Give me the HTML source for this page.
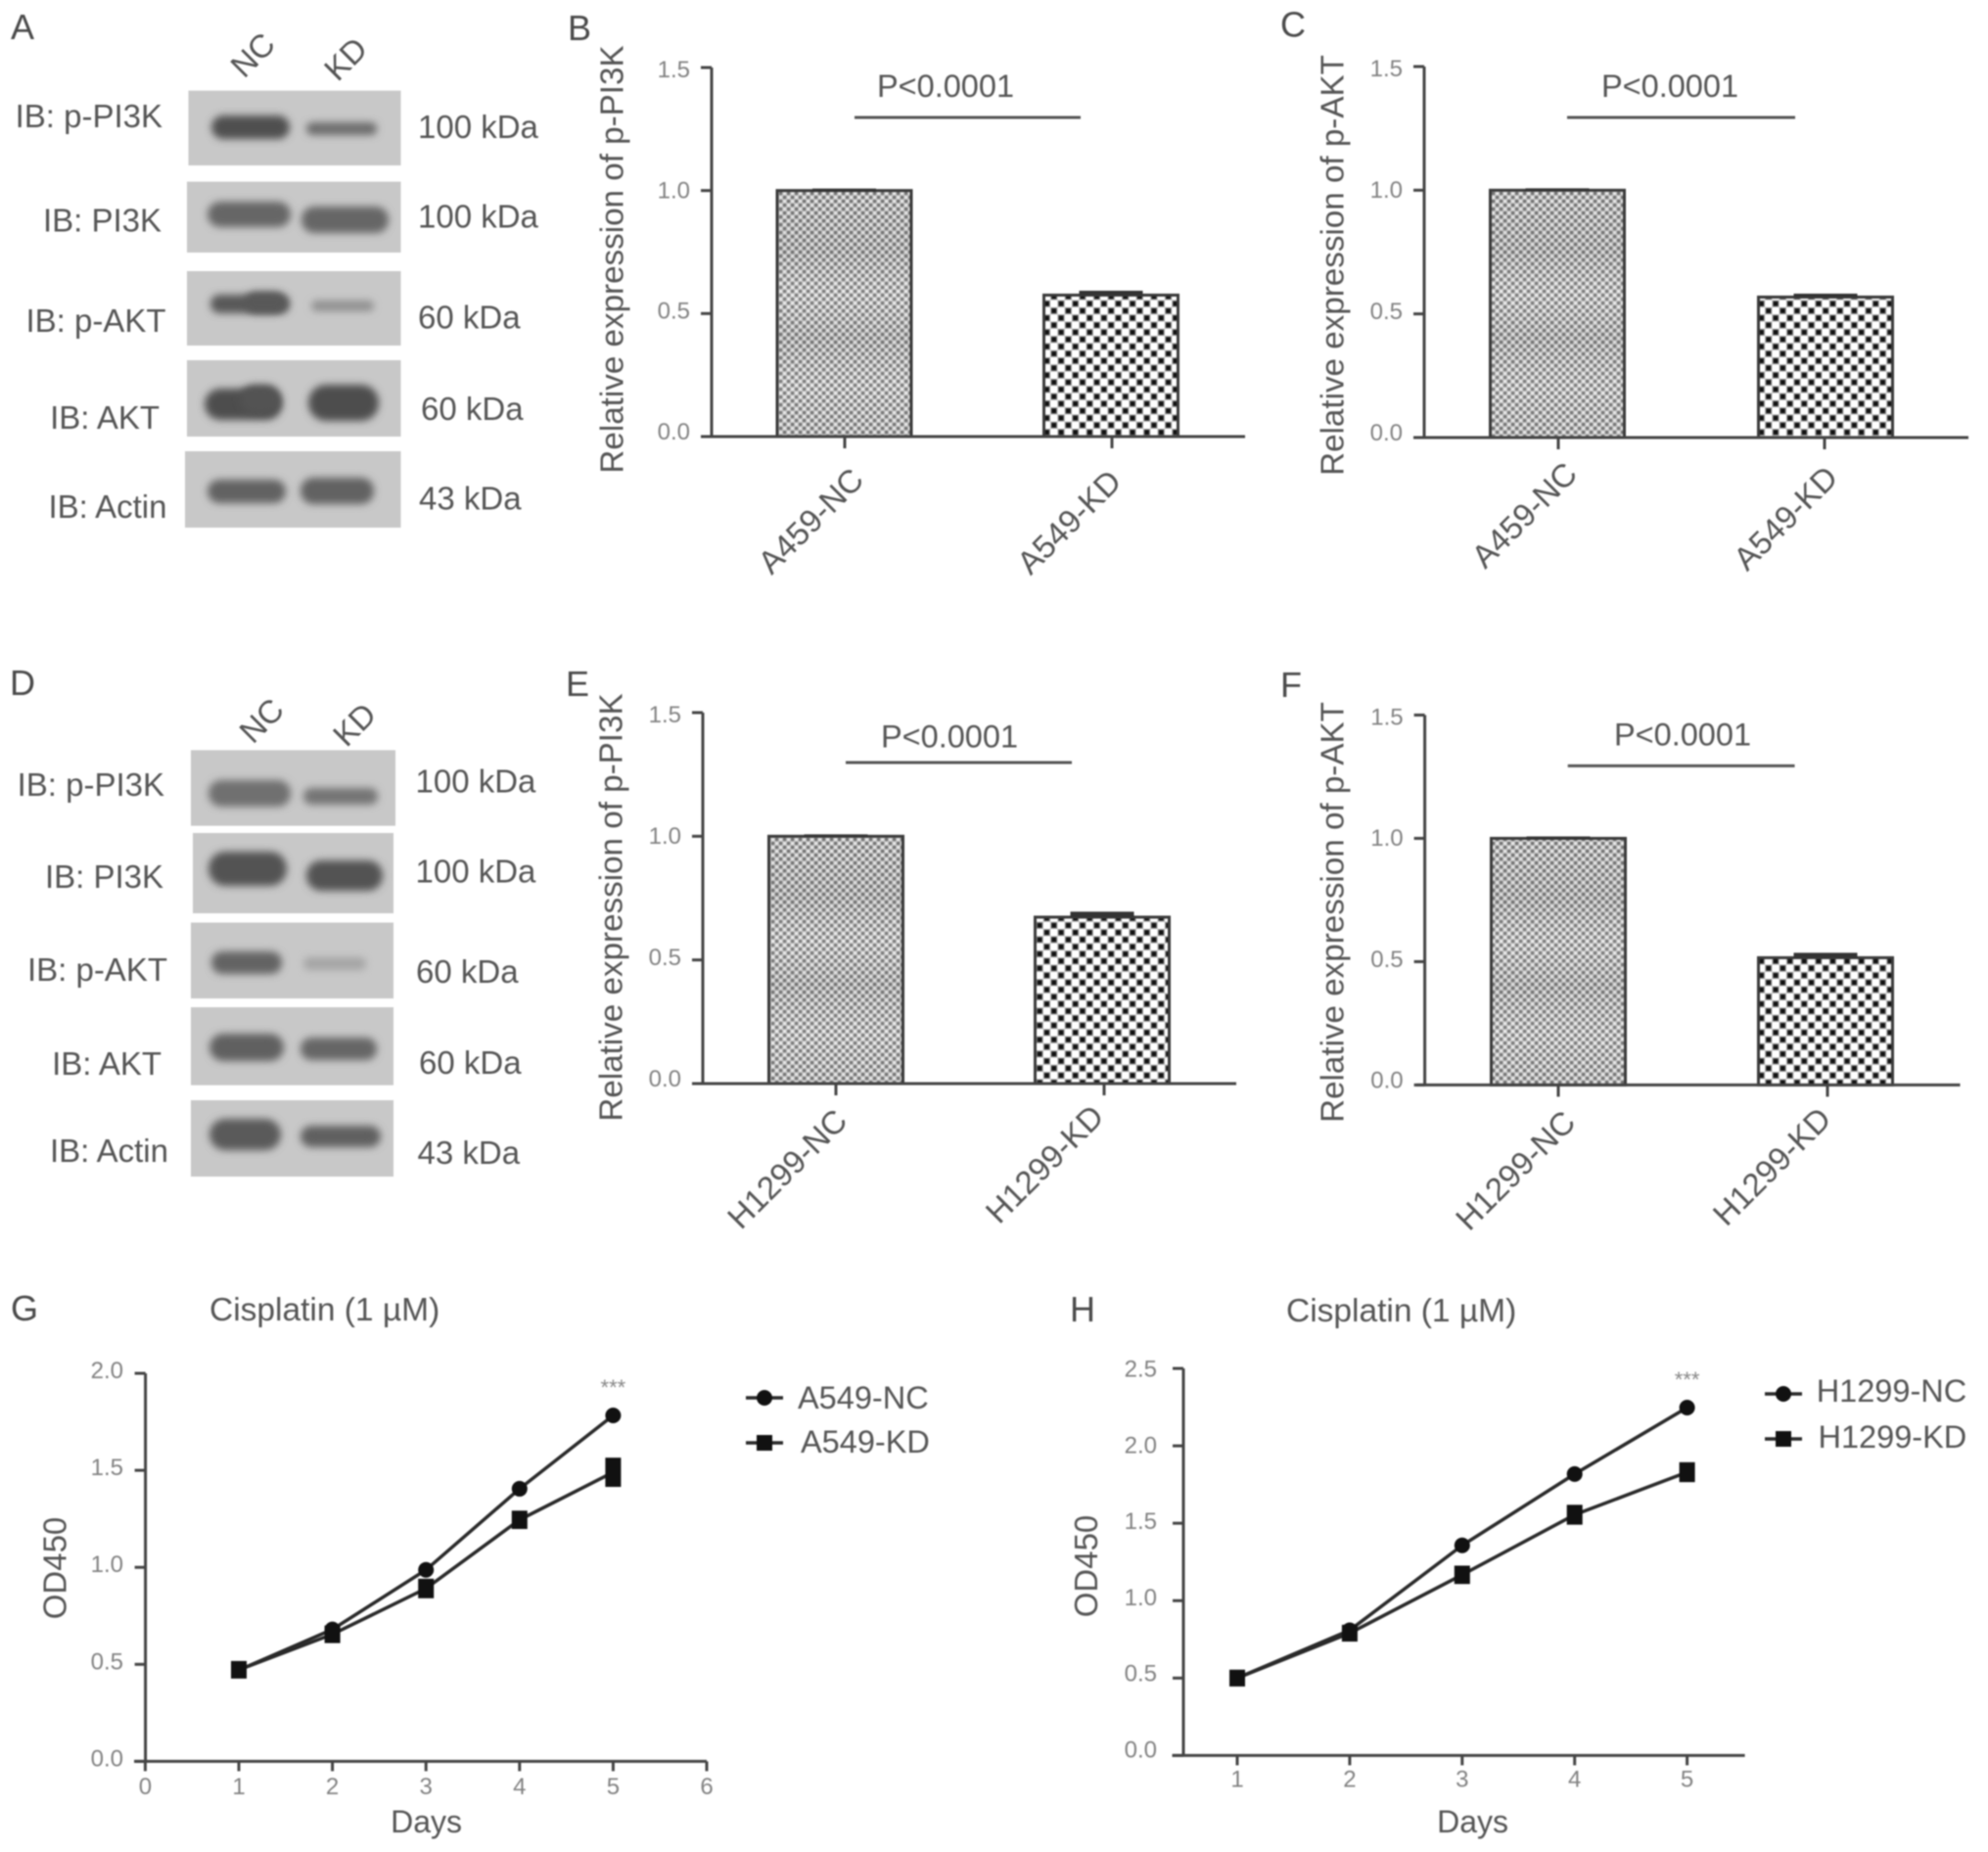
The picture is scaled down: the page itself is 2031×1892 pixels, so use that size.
<!DOCTYPE html>
<html lang="en">
<head>
<meta charset="utf-8">
<title>PI3K and AKT expression and cisplatin response</title>
<style>
html,body{margin:0;padding:0;background:#fff;width:2031px;height:1892px;overflow:hidden}
svg{display:block;filter:blur(0.9px)}
text{font-family:"Liberation Sans",sans-serif;fill:#555}
.lab{font-size:33px}
.panel{font-size:36px;fill:#4a4a4a}
.band{filter:url(#band-blur)}
.blot{fill:#c8c8c8}
</style>
</head>
<body>
<svg id="fig" xmlns="http://www.w3.org/2000/svg" width="2031" height="1892" viewBox="0 0 2031 1892">
<defs>
<filter id="band-blur" x="-30%" y="-80%" width="160%" height="260%"><feGaussianBlur stdDeviation="4"/></filter>
<pattern id="fine-pattern" patternUnits="userSpaceOnUse" width="8" height="8">
<rect width="8" height="8" fill="#c8c8c8"/>
<rect x="0" y="0" width="3.2" height="3.2" fill="#727272"/>
<rect x="4" y="4" width="3.2" height="3.2" fill="#727272"/>
<rect x="0.4" y="4.4" width="2.4" height="2.4" fill="#f0f0f0"/>
<rect x="4.4" y="0.4" width="2.4" height="2.4" fill="#f0f0f0"/>
</pattern>
<pattern id="coarse-pattern" patternUnits="userSpaceOnUse" width="14.6" height="14.6">
<rect width="14.6" height="14.6" fill="#fff"/>
<rect x="0" y="0" width="7.3" height="7.3" fill="#a0a0a0"/>
<rect x="7.3" y="7.3" width="7.3" height="7.3" fill="#a0a0a0"/>
<rect x="1.2" y="1.2" width="4.9" height="4.9" fill="#111"/>
<rect x="8.5" y="8.5" width="4.9" height="4.9" fill="#111"/>
</pattern>
<linearGradient id="nc-shade" x1="0" y1="0" x2="0" y2="1">
<stop offset="0" stop-color="#888" stop-opacity="0.02"/>
<stop offset="0.25" stop-color="#777" stop-opacity="0.14"/>
<stop offset="0.42" stop-color="#fff" stop-opacity="0.08"/>
<stop offset="0.6" stop-color="#777" stop-opacity="0.14"/>
<stop offset="0.8" stop-color="#fff" stop-opacity="0.08"/>
<stop offset="1" stop-color="#888" stop-opacity="0.05"/>
</linearGradient>
</defs>

<!-- Panel A blot -->
<g>
<text class="panel" x="11" y="40">A</text>
<text class="lab" transform="translate(258 56) rotate(-45)" text-anchor="middle" dy=".35em">NC</text>
<text class="lab" transform="translate(353 60) rotate(-45)" text-anchor="middle" dy=".35em">KD</text>

<rect class="blot" x="192.5" y="92.6" width="217" height="76.4"/>
<rect class="blot" x="191" y="185.6" width="218.5" height="72.4"/>
<rect class="blot" x="191" y="277" width="218.5" height="76"/>
<rect class="blot" x="191" y="368" width="218.5" height="78"/>
<rect class="blot" x="189" y="461" width="220.5" height="78"/>

<rect class="band" x="216" y="118" width="80" height="24" rx="12" fill="#505050"/>
<rect class="band" x="313" y="125" width="72" height="13" rx="6" fill="#6c6c6c"/>
<rect class="band" x="212" y="206" width="85" height="26" rx="13" fill="#666"/>
<rect class="band" x="308" y="211" width="89" height="27" rx="13" fill="#666"/>
<rect class="band" x="215" y="301" width="81" height="19" rx="9" fill="#585858"/>
<rect class="band" x="250" y="298" width="42" height="22" rx="11" fill="#585858"/>
<rect class="band" x="318" y="307" width="64" height="11" rx="5" fill="#909090"/>
<rect class="band" x="209" y="397" width="79" height="32" rx="16" fill="#4e4e4e"/>
<rect class="band" x="245" y="393" width="42" height="30" rx="15" fill="#525252"/>
<rect class="band" x="315" y="393" width="72" height="37" rx="18" fill="#4e4e4e"/>
<rect class="band" x="212" y="490" width="80" height="24" rx="12" fill="#626262"/>
<rect class="band" x="307" y="488" width="75" height="27" rx="13" fill="#626262"/>

<text class="lab" x="166" y="130" text-anchor="end">IB: p-PI3K</text>
<text class="lab" x="165" y="236.5" text-anchor="end">IB: PI3K</text>
<text class="lab" x="169.5" y="339" text-anchor="end">IB: p-AKT</text>
<text class="lab" x="163" y="438" text-anchor="end">IB: AKT</text>
<text class="lab" x="170.5" y="529" text-anchor="end">IB: Actin</text>

<text class="lab" x="427" y="141">100 kDa</text>
<text class="lab" x="427" y="232.5">100 kDa</text>
<text class="lab" x="427" y="335.6">60 kDa</text>
<text class="lab" x="430" y="429">60 kDa</text>
<text class="lab" x="428" y="520.7">43 kDa</text>
</g>

<!-- Panel D blot -->
<g>
<text class="panel" x="10" y="710">D</text>
<text class="lab" transform="translate(267 736) rotate(-45)" text-anchor="middle" dy=".35em">NC</text>
<text class="lab" transform="translate(362 740) rotate(-45)" text-anchor="middle" dy=".35em">KD</text>

<rect class="blot" x="195" y="766.4" width="209" height="77.2"/>
<rect class="blot" x="197" y="851" width="205" height="82"/>
<rect class="blot" x="195" y="942.5" width="207" height="77.5"/>
<rect class="blot" x="195" y="1029" width="207" height="79.6"/>
<rect class="blot" x="195" y="1124" width="207" height="78"/>

<rect class="band" x="213" y="797" width="84" height="27" rx="13" fill="#707070"/>
<rect class="band" x="310" y="805" width="76" height="17" rx="8" fill="#747474"/>
<rect class="band" x="213" y="870" width="80" height="35" rx="17" fill="#525252"/>
<rect class="band" x="313" y="879" width="78" height="31" rx="15" fill="#525252"/>
<rect class="band" x="216" y="972" width="72" height="23" rx="11" fill="#646464"/>
<rect class="band" x="310" y="978" width="64" height="13" rx="6" fill="#a4a4a4"/>
<rect class="band" x="214" y="1056" width="76" height="28" rx="14" fill="#606060"/>
<rect class="band" x="307" y="1060" width="78" height="23" rx="11" fill="#666"/>
<rect class="band" x="214" y="1143" width="73" height="32" rx="16" fill="#5a5a5a"/>
<rect class="band" x="307" y="1150" width="82" height="22" rx="11" fill="#606060"/>

<text class="lab" x="168" y="813" text-anchor="end">IB: p-PI3K</text>
<text class="lab" x="167" y="907" text-anchor="end">IB: PI3K</text>
<text class="lab" x="171" y="1002" text-anchor="end">IB: p-AKT</text>
<text class="lab" x="165" y="1098" text-anchor="end">IB: AKT</text>
<text class="lab" x="172" y="1187" text-anchor="end">IB: Actin</text>

<text class="lab" x="424.5" y="809.6">100 kDa</text>
<text class="lab" x="424.5" y="901.7">100 kDa</text>
<text class="lab" x="425" y="1004">60 kDa</text>
<text class="lab" x="428" y="1097">60 kDa</text>
<text class="lab" x="426.5" y="1189">43 kDa</text>
</g>

<text class="panel" x="580" y="41">B</text>
<text class="panel" x="1308" y="37.5">C</text>
<text class="panel" x="578" y="711">E</text>
<text class="panel" x="1308" y="712">F</text>
<text class="panel" x="11" y="1349">G</text>
<text class="panel" x="1093" y="1350">H</text>
<text x="214" y="1349" font-size="33.5">Cisplatin (1 µM)</text>
<text x="1314" y="1350" font-size="33.5">Cisplatin (1 µM)</text>
</svg>

<script>
// ---- bar chart data ----
const barTicks = [0, 0.5, 1.0, 1.5];
const barTickLabels = ['0.0', '0.5', '1.0', '1.5'];
const categoriesB = ['A459-NC', 'A549-KD'];
const valuesB = [1.0, 0.575];
const errorsB = [0.002, 0.012];
const categoriesC = ['A459-NC', 'A549-KD'];
const valuesC = [1.0, 0.568];
const errorsC = [0.002, 0.008];
const categoriesE = ['H1299-NC', 'H1299-KD'];
const valuesE = [1.0, 0.673];
const errorsE = [0.002, 0.016];
const categoriesF = ['H1299-NC', 'H1299-KD'];
const valuesF = [1.0, 0.516];
const errorsF = [0.002, 0.014];

// ---- line chart data ----
const daysG = [1, 2, 3, 4, 5];
const ncValuesG = [0.47, 0.68, 0.987, 1.405, 1.783];
const kdValuesG = [0.472, 0.655, 0.891, 1.245, 1.49];
const kdErrorsG = [0.01, 0.01, 0.015, 0.012, 0.04];
const xTicksG = [0, 1, 2, 3, 4, 5, 6];
const yTicksG = [0, 0.5, 1.0, 1.5, 2.0];
const yTickLabelsG = ['0.0', '0.5', '1.0', '1.5', '2.0'];
const daysH = [1, 2, 3, 4, 5];
const ncValuesH = [0.5, 0.809, 1.357, 1.818, 2.247];
const kdValuesH = [0.5, 0.79, 1.167, 1.555, 1.83];
const kdErrorsH = [0.01, 0.01, 0.015, 0.02, 0.02];
const xTicksH = [1, 2, 3, 4, 5];
const yTicksH = [0, 0.5, 1.0, 1.5, 2.0, 2.5];
const yTickLabelsH = ['0.0', '0.5', '1.0', '1.5', '2.0', '2.5'];

const svg = document.getElementById('fig');
const NS = 'http://www.w3.org/2000/svg';
const INK = '#444';

function make(parent, tag, attrs, content) {
  const el = document.createElementNS(NS, tag);
  for (const k in attrs) el.setAttribute(k, attrs[k]);
  if (content !== undefined) el.textContent = content;
  parent.appendChild(el);
  return el;
}

function barChart(p) {
  const g = make(svg, 'g', {});
  
  
  const y = v => p.y0 + (p.y15 - p.y0) * v / 1.5;
  const x = i => p.cx[i];

  p.categories.forEach((c, i) => {
    const fillId = i === 0 ? 'fine-pattern' : 'coarse-pattern';
    const bw = 137;
    const left = x(i) - bw / 2 + (p.barShift ? p.barShift[i] : 0);
    const r = make(g, 'rect', { x: left, y: y(p.values[i]), width: bw, height: y(0) - y(p.values[i]), fill: 'url(#' + fillId + ')', stroke: 'none' });
    
    
    if (i === 0) {
      const s = make(g, 'rect', { x: left, y: y(p.values[i]), width: bw, height: y(0) - y(p.values[i]), fill: 'url(#nc-shade)' });
      
      
    }
    const o = make(g, 'rect', { x: left, y: y(p.values[i]), width: bw, height: y(0) - y(p.values[i]), fill: 'none', stroke: '#3a3a3a', 'stroke-width': 3 });
    
    
    const e = make(g, 'line', { x1: left + 36, x2: left + bw - 36, y1: y(p.values[i] + p.errors[i]), y2: y(p.values[i] + p.errors[i]), stroke: '#333', 'stroke-width': 3 });
    
    
    const e2 = make(g, 'rect', { x: left + 36, width: bw - 72, y: y(p.values[i] + p.errors[i]), height: y(p.values[i]) - y(p.values[i] + p.errors[i]), fill: '#333' });
    
    
    const t = make(g, 'line', { x1: x(i), x2: x(i), y1: y(0), y2: y(0) + 12, stroke: INK, 'stroke-width': 3 });
    
    
    const tx = x(i) + p.labelOffset[i][0], ty = y(0) + p.labelOffset[i][1];
    const l = make(g, 'text', { transform: 'translate(' + tx + ' ' + ty + ') rotate(-45)', 'text-anchor': 'middle', dy: '.35em', 'font-size': 33 }, c);
    
    
  });

  const ax = make(g, 'line', { x1: p.ax, x2: p.ax, y1: y(1.5), y2: y(0), stroke: INK, 'stroke-width': 3 });
  
  
  const bx = make(g, 'line', { x1: p.xStart, x2: p.xEnd, y1: y(0), y2: y(0), stroke: INK, 'stroke-width': 3 });
  
  

  barTicks.forEach((v, i) => {
    const t = make(g, 'line', { x1: p.ax - 11, x2: p.ax, y1: y(v), y2: y(v), stroke: INK, 'stroke-width': 3 });
    
    
    const l = make(g, 'text', { x: p.ax - 22, y: y(v) + 3 + 7 * v / 1.5, 'text-anchor': 'end', 'font-size': 24, style: 'fill:#828282' }, barTickLabels[i]);
    
    
  });

  const yt = make(g, 'text', { transform: 'translate(' + p.titleX + ' ' + p.titleY + ') rotate(-90)', 'text-anchor': 'middle', dy: '.35em', 'font-size': 33.2 }, p.yTitle);
  
  

  const sl = make(g, 'line', { x1: p.sig[0], x2: p.sig[1], y1: p.sig[2], y2: p.sig[2], stroke: '#555', 'stroke-width': 3 });
  
  
  const st = make(g, 'text', { x: p.sig[3], y: p.sig[4], 'text-anchor': 'middle', 'font-size': 32.5 }, 'P<0.0001');
  
  
}

function lineChart(p) {
  const g = make(svg, 'g', {});
  
  
  const x = d => p.x1 + (d - 1) * p.xStep;
  const y = v => p.y0 + (p.yTop - p.y0) * v / p.yMax;

  const ax = make(g, 'line', { x1: p.ax, x2: p.ax, y1: y(p.yMax), y2: y(0), stroke: INK, 'stroke-width': 3 });
  
  
  const bx = make(g, 'line', { x1: p.xStart, x2: p.xEnd, y1: y(0), y2: y(0), stroke: INK, 'stroke-width': 3 });
  
  

  p.yTicks.forEach((v, i) => {
    const t = make(g, 'line', { x1: p.ax - 11, x2: p.ax, y1: y(v), y2: y(v), stroke: INK, 'stroke-width': 3 });
    
    
    const l = make(g, 'text', { x: p.yLabelX, y: y(v) + p.yLabelDy0 + p.yLabelDy1 * v / p.yMax, 'text-anchor': 'end', 'font-size': 24, style: 'fill:#828282' }, p.yTickLabels[i]);
    
    
  });
  p.xTicks.forEach(d => {
    const t = make(g, 'line', { x1: x(d), x2: x(d), y1: y(0), y2: y(0) + 10, stroke: INK, 'stroke-width': 3 });
    
    
    const l = make(g, 'text', { x: x(d), y: p.xLabelY, 'text-anchor': 'middle', 'font-size': 24, style: 'fill:#828282' }, String(d));
    
    
  });

  const xt = make(g, 'text', { x: p.daysX, y: 1872, 'text-anchor': 'middle', 'font-size': 32 }, 'Days');
  
  
  const yt = make(g, 'text', { transform: 'translate(' + p.odX + ' ' + p.odY + ') rotate(-90)', 'text-anchor': 'middle', dy: '.35em', 'font-size': 33 }, 'OD450');
  
  

  const pts = (vals) => p.days.map((d, i) => x(d) + ',' + y(vals[i])).join(' ');
  const nl = make(g, 'polyline', { points: pts(p.nc), fill: 'none', stroke: '#2a2a2a', 'stroke-width': 3.5 });
  
  
  const kl = make(g, 'polyline', { points: pts(p.kd), fill: 'none', stroke: '#2a2a2a', 'stroke-width': 3.5 });
  
  

  p.days.forEach((d, i) => {
    const c = make(g, 'circle', { cx: x(d), cy: y(p.nc[i]), r: 8, fill: '#111' });
    
    
  });
  p.days.forEach((d, i) => {
    const top = y(p.kd[i] + p.kdErr[i]), bot = y(p.kd[i] - p.kdErr[i]);
    const eb = make(g, 'rect', { x: x(d) - 8, y: top - 7, width: 16, height: bot - top + 14, fill: '#111' });
    
    
  });

  const star = make(g, 'text', { x: x(5), y: p.starY, 'text-anchor': 'middle', 'font-size': 22, style: 'fill:#888' }, '***');
  
  

  // legend
  const le1 = make(g, 'line', { x1: p.legend.x0, x2: p.legend.x0 + 38, y1: p.legend.y1, y2: p.legend.y1, stroke: '#2a2a2a', 'stroke-width': 3.5 });
  
  
  const lm1 = make(g, 'circle', { cx: p.legend.x0 + 19, cy: p.legend.y1, r: 8, fill: '#111' });
  
  
  const lt1 = make(g, 'text', { x: p.legend.t1, y: p.legend.b1, 'font-size': 32.5 }, p.names[0]);
  
  
  const le2 = make(g, 'line', { x1: p.legend.x0, x2: p.legend.x0 + 38, y1: p.legend.y2, y2: p.legend.y2, stroke: '#2a2a2a', 'stroke-width': 3.5 });
  
  
  const lm2 = make(g, 'rect', { x: p.legend.x0 + 11, y: p.legend.y2 - 8, width: 16, height: 16, fill: '#111' });
  
  
  const lt2 = make(g, 'text', { x: p.legend.t2, y: p.legend.b2, 'font-size': 32.5 }, p.names[1]);
  
  
}

barChart({ id: 'b', categories: categoriesB, values: valuesB, errors: errorsB, y0: 446, y15: 69, ax: 727, xStart: 717, xEnd: 1272, cx: [863, 1136], barShift: [-0.5, -1],
  labelOffset: [[-35, 86], [-44, 87]], titleX: 625, titleY: 265, yTitle: 'Relative expression of p-PI3K', sig: [873, 1104, 120, 966, 99] });
barChart({ id: 'c', categories: categoriesC, values: valuesC, errors: errorsC, y0: 447, y15: 68, ax: 1455, xStart: 1444, xEnd: 2011, cx: [1592, 1864], barShift: [-1, 1],
  labelOffset: [[-35, 79], [-40, 82]], titleX: 1361, titleY: 271, yTitle: 'Relative expression of p-AKT', sig: [1601, 1834, 120, 1706, 99] });
barChart({ id: 'e', categories: categoriesE, values: valuesE, errors: errorsE, y0: 1107, y15: 728, ax: 718, xStart: 708, xEnd: 1263, cx: [854, 1128], barShift: [0, -2],
  labelOffset: [[-50, 87], [-61, 82]], titleX: 624, titleY: 927, yTitle: 'Relative expression of p-PI3K', sig: [864, 1095, 779, 970, 763.6] });
barChart({ id: 'f', categories: categoriesF, values: valuesF, errors: errorsF, y0: 1108.4, y15: 730.5, ax: 1455.6, xStart: 1447, xEnd: 2002.5, cx: [1592, 1867], barShift: [0, -2],
  labelOffset: [[-44, 87], [-57, 83]], titleX: 1361, titleY: 932, yTitle: 'Relative expression of p-AKT', sig: [1601.7, 1833.5, 782.4, 1719, 761.7] });

lineChart({ id: 'g', days: daysG, nc: ncValuesG, kd: kdValuesG, kdErr: kdErrorsG, xTicks: xTicksG, yTicks: yTicksG, yTickLabels: yTickLabelsG,
  x1: 244, xStep: 95.6, y0: 1799.4, yTop: 1403, yMax: 2.0, ax: 148.6, xStart: 137, xEnd: 722, yLabelX: 126, yLabelDy0: 5, yLabelDy1: 0, xLabelY: 1833, daysX: 435.6, odX: 56, odY: 1602, starY: 1425,
  names: ['A549-NC', 'A549-KD'], legend: { x0: 762, y1: 1428, y2: 1474, t1: 815, b1: 1439, t2: 818, b2: 1484 } });
lineChart({ id: 'h', days: daysH, nc: ncValuesH, kd: kdValuesH, kdErr: kdErrorsH, xTicks: xTicksH, yTicks: yTicksH, yTickLabels: yTickLabelsH,
  x1: 1264, xStep: 114.9, y0: 1793.4, yTop: 1398, yMax: 2.5, ax: 1209, xStart: 1197.5, xEnd: 1782.6, yLabelX: 1182, yLabelDy0: 2, yLabelDy1: 6.6, xLabelY: 1825.5, daysX: 1504.6, odX: 1109.5, odY: 1600, starY: 1417,
  names: ['H1299-NC', 'H1299-KD'], legend: { x0: 1803, y1: 1424, y2: 1470, t1: 1855.7, b1: 1432, t2: 1857.5, b2: 1479 } });
</script>
</body>
</html>
